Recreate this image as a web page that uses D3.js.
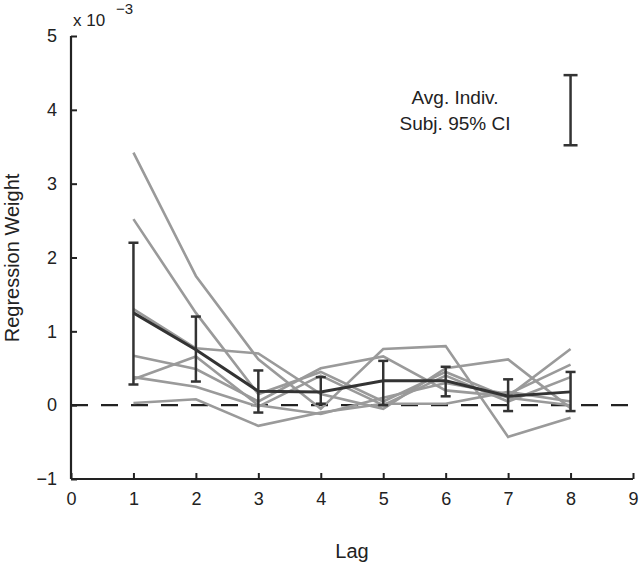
<!DOCTYPE html>
<html>
<head>
<meta charset="utf-8">
<script src="https://cdn.jsdelivr.net/npm/d3@7/dist/d3.min.js"></script>
<style>
  html, body { margin: 0; padding: 0; background: #fff; }
  svg { display: block; }
  text { font-family: "Liberation Sans", Arial, sans-serif; fill: #222; }
</style>
</head>
<body>
<svg id="chart" width="640" height="563"></svg>
<script>
const lags = [1, 2, 3, 4, 5, 6, 7, 8];
const xTicks = [0, 1, 2, 3, 4, 5, 6, 7, 8, 9];
const yTicks = [-1, 0, 1, 2, 3, 4, 5];

// individual subjects (x 10^-3)
const subj1 = [3.42, 1.75, 0.62, -0.05, 0.76, 0.80, -0.43, -0.17];
const subj2 = [2.52, 1.25, 0.15, 0.45, 0.05, 0.45, 0.10, 0.00];
const subj3 = [1.30, 0.77, 0.70, 0.15, -0.05, 0.50, 0.62, -0.04];
const subj4 = [0.67, 0.49, 0.05, 0.50, 0.66, 0.20, 0.12, 0.76];
const subj5 = [0.35, 0.66, 0.00, -0.12, 0.10, 0.30, 0.15, 0.55];
const subj6 = [0.38, 0.25, -0.02, 0.40, 0.00, 0.40, 0.05, 0.38];
const subj7 = [0.03, 0.08, -0.28, -0.10, 0.02, 0.02, 0.18, 0.05];
const subjects = [subj1, subj2, subj3, subj4, subj5, subj6, subj7];

// group mean and 95% CI
const meanVals = [1.25, 0.75, 0.19, 0.18, 0.33, 0.33, 0.12, 0.18];
const ciLow  = [0.28, 0.32, -0.10, 0.02, 0.00, 0.12, -0.08, -0.08];
const ciHigh = [2.20, 1.20, 0.47, 0.38, 0.60, 0.52, 0.35, 0.45];

// average individual subject CI (legend bar)
const indivCI = [3.52, 4.47];
const indivCIx = 8.0;

const svg = d3.select("#chart");
const x = d3.scaleLinear().domain([0, 9]).range([71, 633]);
const y = d3.scaleLinear().domain([-1, 5]).range([479, 36]);
const ink = "#222";

// dashed zero line
svg.append("line")
  .attr("x1", x(0)).attr("x2", x(9))
  .attr("y1", y(0)).attr("y2", y(0))
  .attr("stroke", ink).attr("stroke-width", 2.2)
  .attr("stroke-dasharray", "17,13");

// individual lines
const line = d3.line().x((d, i) => x(lags[i])).y(d => y(d));
svg.append("g").selectAll("path").data(subjects).join("path")
  .attr("d", d => line(d))
  .attr("fill", "none")
  .attr("stroke", "#9a9a9a")
  .attr("stroke-width", 2.6)
  .attr("stroke-linejoin", "miter");

// mean line
svg.append("path")
  .attr("d", line(meanVals))
  .attr("fill", "none")
  .attr("stroke", "#333")
  .attr("stroke-width", 3);

// error bars
const eb = svg.append("g").attr("stroke", "#333").attr("stroke-width", 2.5);
lags.forEach((l, i) => {
  eb.append("line").attr("x1", x(l)).attr("x2", x(l)).attr("y1", y(ciLow[i])).attr("y2", y(ciHigh[i]));
  [ciLow[i], ciHigh[i]].forEach(v => {
    eb.append("line").attr("x1", x(l) - 5).attr("x2", x(l) + 5).attr("y1", y(v)).attr("y2", y(v));
  });
});

// legend CI bar
const lg = svg.append("g").attr("stroke", "#333").attr("stroke-width", 2.5);
lg.append("line").attr("x1", x(indivCIx)).attr("x2", x(indivCIx)).attr("y1", y(indivCI[0])).attr("y2", y(indivCI[1]));
indivCI.forEach(v => {
  lg.append("line").attr("x1", x(indivCIx) - 7).attr("x2", x(indivCIx) + 7).attr("y1", y(v)).attr("y2", y(v));
});
svg.append("text").attr("x", 455).attr("y", 104).attr("text-anchor", "middle")
  .attr("font-size", 19).text("Avg. Indiv.");
svg.append("text").attr("x", 455).attr("y", 130).attr("text-anchor", "middle")
  .attr("font-size", 19).text("Subj. 95% CI");

// axes
const fmt = d => (d < 0 ? "\u2212" + Math.abs(d) : String(d));
const xAxis = d3.axisBottom(x).tickValues(xTicks).tickSize(-6).tickPadding(13).tickFormat(fmt);
const yAxis = d3.axisLeft(y).tickValues(yTicks).tickSize(-6).tickPadding(14).tickFormat(fmt);

const gx = svg.append("g").attr("transform", `translate(0,${y(-1)})`).call(xAxis);
const gy = svg.append("g").attr("transform", `translate(${x(0)},0)`).call(yAxis);
[gx, gy].forEach(g => {
  g.select(".domain").attr("stroke", ink).attr("stroke-width", 2.2);
  g.selectAll(".tick line").attr("stroke", ink).attr("stroke-width", 2);
  g.selectAll(".tick text").attr("font-size", 18).attr("fill", "#222")
    .style("font-family", "'Liberation Sans', Arial, sans-serif");
});
gx.select(".domain").attr("d", `M${x(0)},0H${x(9)}`);
gy.select(".domain").attr("d", `M0,${y(-1)}V${y(5)}`);

// exponent label
svg.append("text").attr("x", 73).attr("y", 26).attr("font-size", 17).text("x 10");
svg.append("text").attr("x", 116).attr("y", 14).attr("font-size", 15).text("\u22123");

// axis titles
svg.append("text").attr("x", 352).attr("y", 558).attr("text-anchor", "middle")
  .attr("font-size", 20).text("Lag");
svg.append("text").attr("transform", "translate(19,258) rotate(-90)")
  .attr("text-anchor", "middle").attr("font-size", 20).text("Regression Weight");
</script>
</body>
</html>
